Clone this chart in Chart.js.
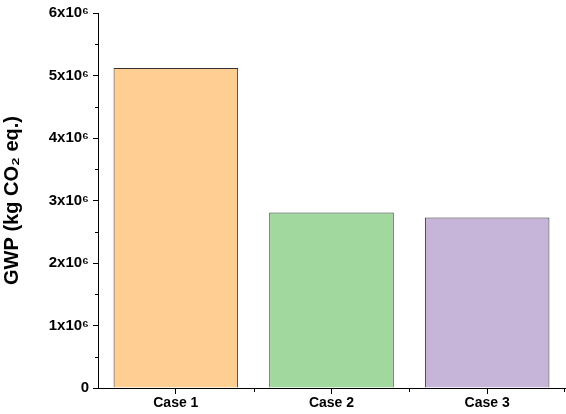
<!DOCTYPE html>
<html>
<head>
<meta charset="utf-8">
<script src="https://cdn.jsdelivr.net/npm/chart.js@4"></script>
<style>
  html, body { margin: 0; padding: 0; background: #fff; }
  canvas { display: block; }
</style>
</head>
<body>
<canvas id="chart" width="566" height="414"></canvas>
<script>
const categories = ['Case 1', 'Case 2', 'Case 3'];
const gwpValues = [5.12e6, 2.81e6, 2.73e6];
const barColors = ['#FECE93', '#A0D89E', '#C6B4D9'];
const yTickLabels = {0: '0', 1: '1x10\u2076', 2: '2x10\u2076', 3: '3x10\u2076', 4: '4x10\u2076', 5: '5x10\u2076', 6: '6x10\u2076'};

// minor ticks: half steps on y, category boundaries on x
const minorTicks = {
    id: 'minorTicks',
    afterDraw(chart) {
        const ctx = chart.ctx;
        const y = chart.scales.y;
        const x = chart.scales.x;
        ctx.save();
        ctx.strokeStyle = '#000';
        ctx.lineWidth = 1;
        ctx.beginPath();
        for (let v = 0.5e6; v < 6e6; v += 1e6) {
            const py = Math.round(y.getPixelForValue(v)) + 0.5;
            ctx.moveTo(x.left, py);
            ctx.lineTo(x.left - 3, py);
        }
        for (let i = 1; i < categories.length; i++) {
            const px = Math.round((x.getPixelForValue(i - 1) + x.getPixelForValue(i)) / 2) + 0.5;
            ctx.moveTo(px, y.bottom);
            ctx.lineTo(px, y.bottom + 4);
        }
        ctx.moveTo(x.right - 0.5, y.bottom);
        ctx.lineTo(x.right - 0.5, y.bottom + 4);
        ctx.stroke();
        ctx.restore();
    }
};

new Chart(document.getElementById('chart'), {
    type: 'bar',
    data: {
        labels: categories,
        datasets: [{
            data: gwpValues,
            backgroundColor: barColors,
            borderColor: '#333333',
            borderWidth: 1,
            barPercentage: 0.8,
            categoryPercentage: 1.0
        }]
    },
    options: {
        responsive: false,
        animation: false,
        devicePixelRatio: 1,
        layout: {padding: {top: 10, right: 1, bottom: 0, left: 0}},
        plugins: {
            legend: {display: false},
            tooltip: {enabled: false}
        },
        scales: {
            x: {
                grid: {drawOnChartArea: false, offset: false, tickLength: 6, tickColor: '#000'},
                border: {color: '#000', width: 1},
                ticks: {color: '#000', padding: 1, autoSkip: false, maxRotation: 0, font: {family: 'Liberation Sans, Arial', weight: 'bold', size: 14}},
                afterFit: function(scale) { scale.height = 26; }
            },
            y: {
                min: 0,
                max: 6e6,
                grid: {drawOnChartArea: false, tickLength: 5, tickColor: '#000'},
                border: {color: '#000', width: 1},
                ticks: {
                    stepSize: 1e6,
                    autoSkip: false,
                    color: '#000',
                    padding: 4,
                    font: {family: 'Liberation Sans, Arial', weight: 'bold', size: 15},
                    callback: function(value) { return yTickLabels[Math.round(value / 1e6)]; }
                },
                title: {
                    display: true,
                    text: 'GWP (kg CO\u2082 eq.)',
                    color: '#000',
                    padding: {top: 0, bottom: 4},
                    font: {family: 'Liberation Sans, Arial', weight: 'bold', size: 20}
                },
                afterFit: function(scale) { scale.width = 98; }
            }
        }
    },
    plugins: [minorTicks]
});
</script>
</body>
</html>
